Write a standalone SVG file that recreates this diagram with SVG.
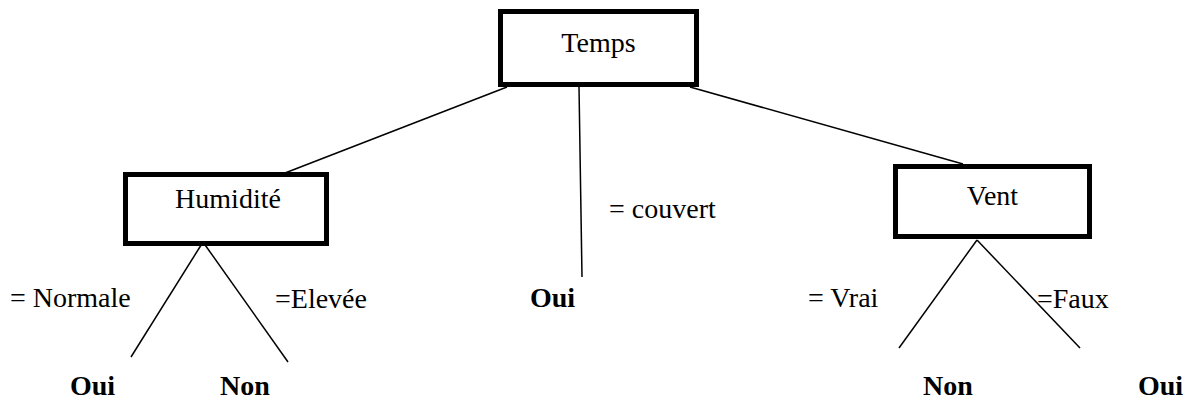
<svg xmlns="http://www.w3.org/2000/svg" width="1192" height="399" viewBox="0 0 1192 399">
<style>
.box{fill:#fff;stroke:#000;stroke-width:5}
.t{font-family:"Liberation Serif","Times New Roman",Times,"DejaVu Serif",serif;font-size:28px;fill:#000}
.b{font-weight:bold}
.c line{stroke:#000;stroke-width:1.5}
</style>
<rect width="1192" height="399" fill="#fff"/>
<g class="c" id="connectors">
<line x1="507" y1="87" x2="285" y2="173"/>
<line x1="579" y1="87" x2="582" y2="277"/>
<line x1="690" y1="87" x2="963" y2="164"/>
<line x1="203" y1="242" x2="131" y2="357"/>
<line x1="203" y1="242" x2="288" y2="362"/>
<line x1="977" y1="240" x2="899" y2="348"/>
<line x1="977" y1="240" x2="1080" y2="348"/>
</g>
<g id="temps"><rect class="box" x="500.5" y="11.5" width="196" height="73"/><text class="t" x="598.5" y="52" text-anchor="middle">Temps</text></g>
<g id="humidite"><rect class="box" x="125.5" y="174.5" width="201" height="69"/><text class="t" x="228" y="208" text-anchor="middle">Humidité</text></g>
<g id="vent"><rect class="box" x="895.5" y="166.5" width="194" height="70"/><text class="t" x="992.5" y="205" text-anchor="middle">Vent</text></g>
<g id="labels">
<text class="t" x="10" y="307">= Normale</text>
<text class="t" x="275" y="308">=Elevée</text>
<text class="t" x="609" y="218">= couvert</text>
<text class="t" x="808" y="307">= Vrai</text>
<text class="t" x="1037" y="308">=Faux</text>
</g>
<g id="leaf-oui-1"><text class="t b" x="70" y="395">Oui</text></g>
<g id="leaf-non-1"><text class="t b" x="220" y="395">Non</text></g>
<g id="leaf-oui-2"><text class="t b" x="530" y="307">Oui</text></g>
<g id="leaf-non-2"><text class="t b" x="923" y="395">Non</text></g>
<g id="leaf-oui-3"><text class="t b" x="1138" y="395">Oui</text></g>
</svg>
